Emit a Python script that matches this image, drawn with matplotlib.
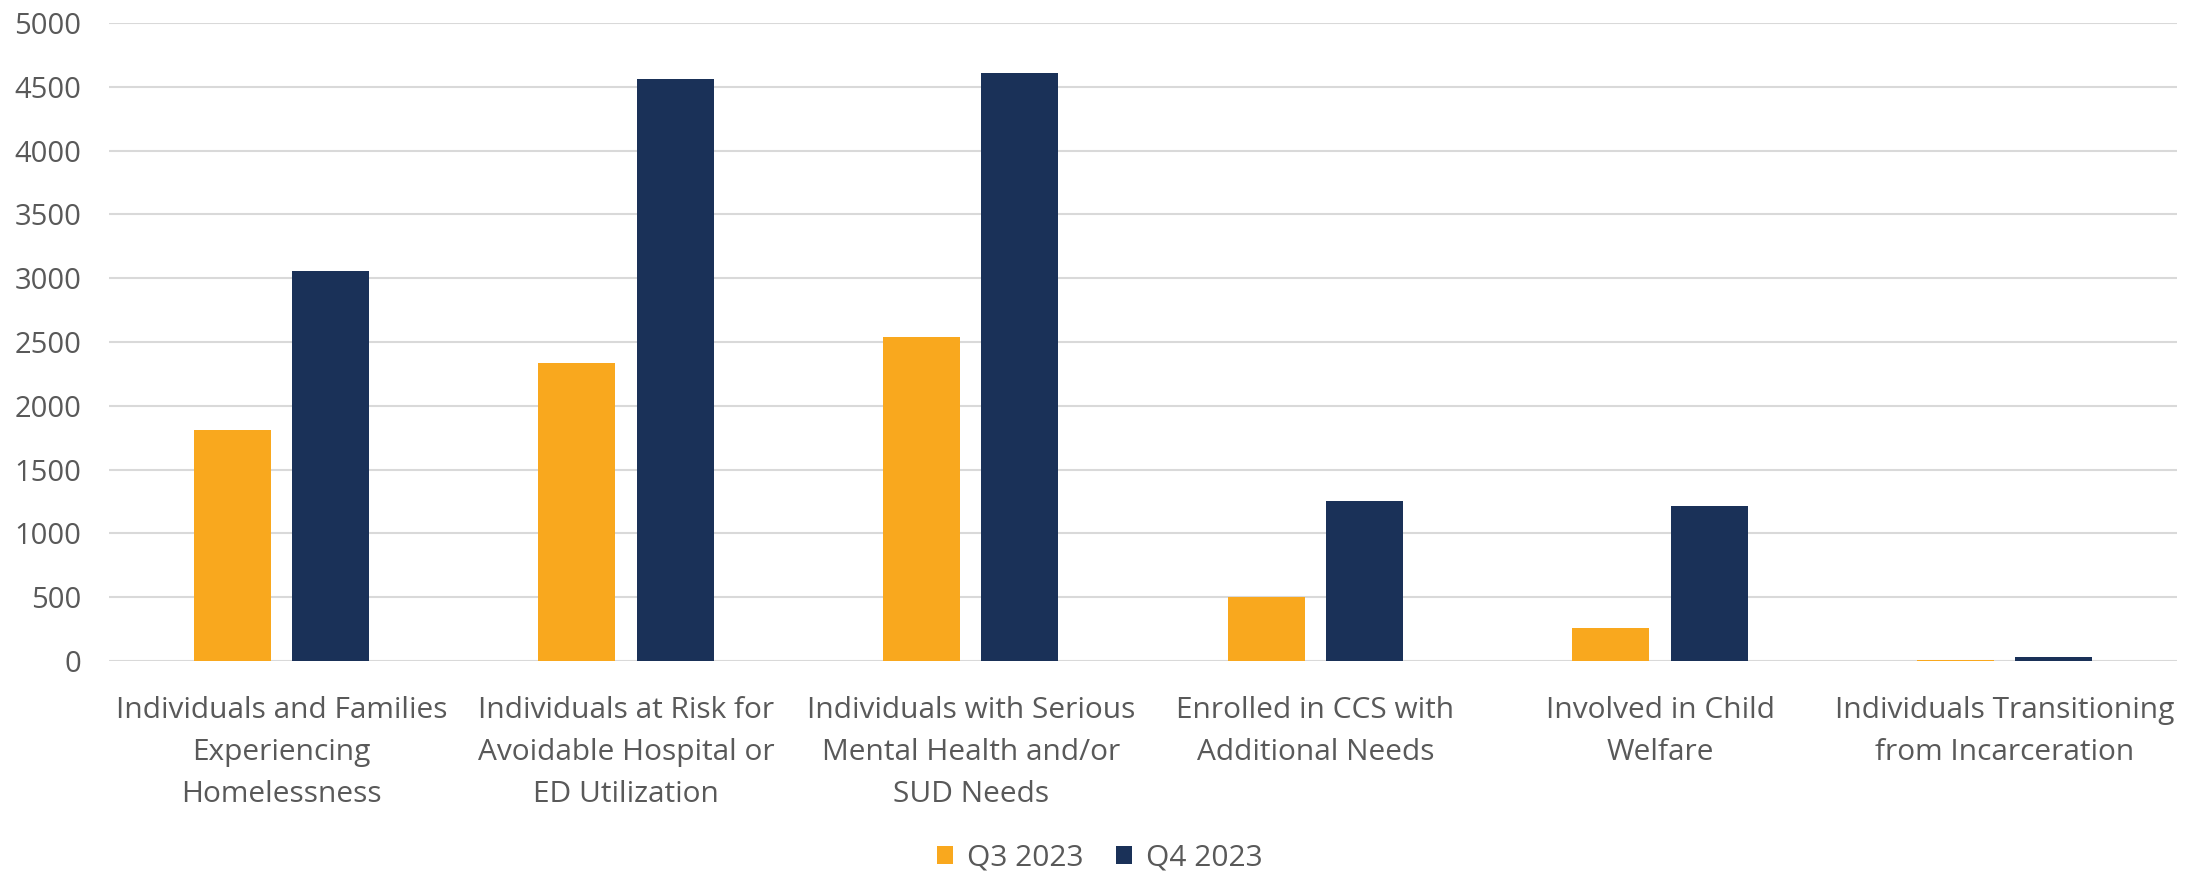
import matplotlib
matplotlib.use("Agg")
import matplotlib.pyplot as plt
import numpy as np

categories = [
    "Individuals and Families\nExperiencing\nHomelessness",
    "Individuals at Risk for\nAvoidable Hospital or\nED Utilization",
    "Individuals with Serious\nMental Health and/or\nSUD Needs",
    "Enrolled in CCS with\nAdditional Needs",
    "Involved in Child\nWelfare",
    "Individuals Transitioning\nfrom Incarceration",
]
q3_2023 = [1810, 2335, 2540, 500, 260, 10]
q4_2023 = [3055, 4565, 4605, 1252, 1212, 30]
series_names = ["Q3 2023", "Q4 2023"]
y_ticks = list(range(0, 5001, 500))

plt.rcParams['font.family'] = ['Open Sans', 'DejaVu Sans']
text_color = "#595959"

fig = plt.figure(figsize=(21.99, 8.73), dpi=100)
ax = fig.add_axes([0.0496, 0.2428, 0.9404, 0.7308])

x = np.arange(len(categories))
w = 0.224
off = 0.1427
ax.bar(x - off, q3_2023, width=w, color="#F9A81E", label=series_names[0], zorder=3)
ax.bar(x + off, q4_2023, width=w, color="#1A3158", label=series_names[1], zorder=3)

ax.set_xlim(-0.5, len(categories) - 0.5)
ax.set_ylim(0, 5000)
ax.set_yticks(y_ticks)
ax.yaxis.grid(True, color="#d9d9d9", linewidth=1.5, zorder=0)
ax.set_axisbelow(True)
for s in ax.spines.values():
    s.set_visible(False)
ax.tick_params(axis='both', length=0, labelsize=21, colors=text_color)
ax.tick_params(axis='y', pad=20)
ax.tick_params(axis='x', pad=25)
ax.set_xticks(x)
ax.set_xticklabels(categories, fontsize=21.5, color=text_color, linespacing=1.6)

leg = fig.legend(loc="lower center", bbox_to_anchor=(0.5, -0.03), ncol=2, frameon=False,
                 fontsize=21.5, handlelength=0.55, handleheight=0.55, handletextpad=0.45,
                 columnspacing=1.1)
for t in leg.get_texts():
    t.set_color(text_color)

fig.savefig("out.png", dpi=100)
